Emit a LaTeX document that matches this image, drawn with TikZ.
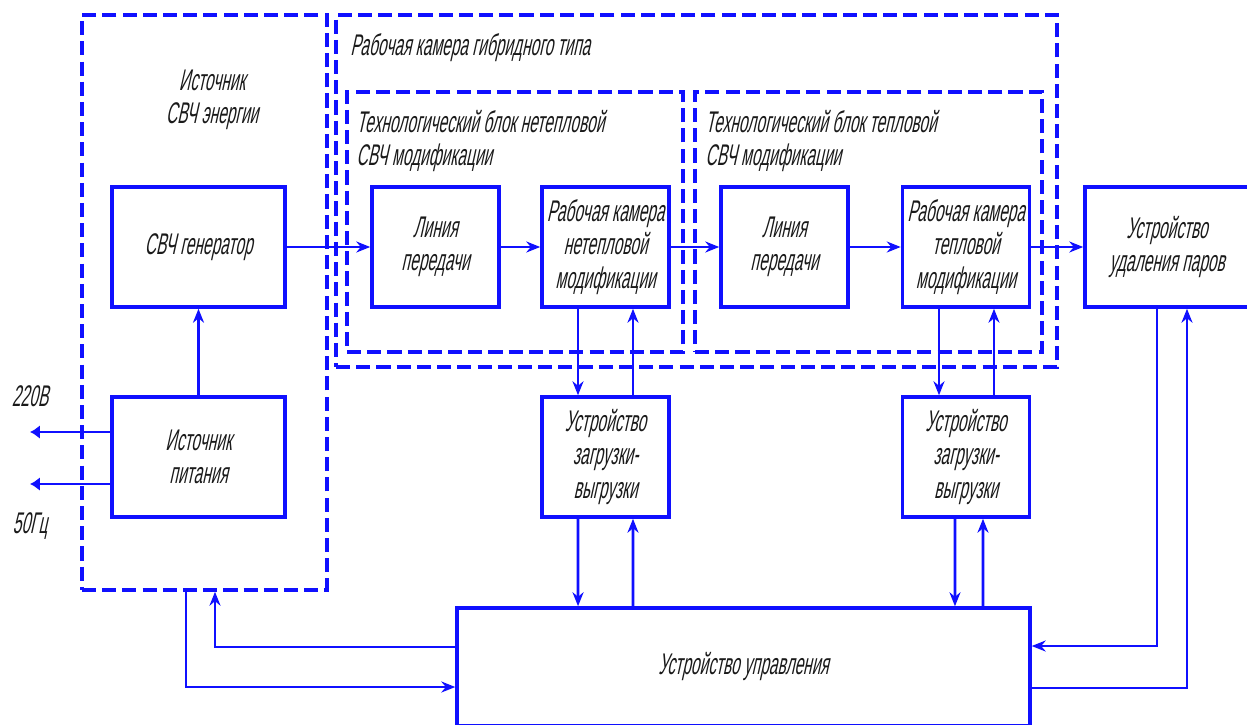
\documentclass[tikz,border=0pt]{standalone}
\usepackage{fontspec}
\setmainfont{Liberation Sans}[FakeStretch=0.52,FakeSlant=0.22]
\usepackage{xcolor}
\usetikzlibrary{arrows.meta,positioning}
\definecolor{schemeBlue}{HTML}{1010FF}
\definecolor{schemeInk}{HTML}{1A1A1A}
\tikzset{
  unit/.style={
    rectangle,
    draw=schemeBlue,
    line width=2pt,
    inner sep=0pt,
    minimum height=24mm,
    align=center,
    text=schemeInk,
    font=\fontsize{17}{19}\selectfont
  },
  dashgroup/.style={
    rectangle,
    draw=schemeBlue,
    line width=2pt,
    dash pattern=on 8pt off 3.5pt,
    inner sep=0pt
  },
  caption/.style={
    inner sep=0pt,
    align=left,
    text=schemeInk,
    font=\fontsize{17}{19}\selectfont
  },
  arrow/.style={
    -{Stealth[length=2.8mm,width=2.2mm]},
    line width=1.5pt,
    draw=schemeBlue
  },
  terminal/.style={
    -{Latex[length=2mm,width=2.8mm]},
    line width=1.5pt,
    draw=schemeBlue
  }
}
\begin{document}
\begin{tikzpicture}[x=0.02cm,y=-0.02cm]
  \useasboundingbox (0,0) rectangle (1247,724);
  \clip (0,0) rectangle (1247,724);
  \node[dashgroup,minimum width=49mm,minimum height=115mm] (src) at (204.5,302.5) {};
  \node[dashgroup,minimum width=144.2mm,minimum height=70.4mm] (hybrid) at (696.5,191) {};
  \node[dashgroup,minimum width=67.2mm,minimum height=52mm] (blockA) at (515,222) {};
  \node[dashgroup,minimum width=69.4mm,minimum height=52mm] (blockB) at (868.5,222) {};
  \node[caption,align=center] (srctitle) at (212,100) {Источник\\СВЧ энергии};
  \node[caption,anchor=west] (hybridtitle) at (350,48) {Рабочая камера гибридного типа};
  \node[caption,anchor=west] (blockAtitle) at (356,141) {Технологический блок нетепловой\\СВЧ модификации};
  \node[caption,anchor=west] (blockBtitle) at (705,141) {Технологический блок тепловой\\СВЧ модификации};

  \node[unit,minimum width=34.6mm] (gen) at (198.5,247) {СВЧ генератор};
  \node[unit,minimum width=34.6mm] (power) at (198.5,457) {Источник\\питания};
  \node[unit,minimum width=25.4mm] (lineA) at (435.5,247) {Линия\\передачи};
  \node[unit,minimum width=25.4mm] (chamA) at (605.5,247) {Рабочая камера\\нетепловой\\модификации};
  \node[unit,minimum width=25.4mm] (lineB) at (784.5,247) {Линия\\передачи};
  \node[unit,minimum width=25.4mm] (chamB) at (966,247) {Рабочая камера\\тепловой\\модификации};
  \node[unit,minimum width=32.8mm] (vapor) at (1167,247) {Устройство\\удаления паров};
  \node[unit,minimum width=25.4mm] (loadA) at (605.5,457) {Устройство\\загрузки-\\выгрузки};
  \node[unit,minimum width=25.4mm] (loadB) at (966,457) {Устройство\\загрузки-\\выгрузки};
  \node[unit,minimum width=114.6mm,minimum height=23.6mm] (ctrl) at (743.5,667) {Устройство управления};

  \node[caption] (volt) at (30,396) {220В};
  \node[caption] (freq) at (30,526) {50Гц};
  \coordinate (inA) at (30,432);
  \coordinate (inB) at (30,484);
  \draw[terminal] (power.west |- inA) -- (inA);
  \draw[terminal] (power.west |- inB) -- (inB);

  \draw[arrow] (power) -- (gen);
  \draw[arrow] (gen) -- (lineA);
  \draw[arrow] (lineA) -- (chamA);
  \draw[arrow] (chamA) -- (lineB);
  \draw[arrow] (lineB) -- (chamB);
  \draw[arrow] (chamB) -- (vapor);

  \draw[arrow] ([xshift=-5.5mm]chamA.south) -- ([xshift=-5.5mm]loadA.north);
  \draw[arrow] ([xshift=5.5mm]loadA.north) -- ([xshift=5.5mm]chamA.south);
  \draw[arrow] ([xshift=-5.5mm]loadA.south) -- ([xshift=-33.1mm]ctrl.north);
  \draw[arrow] ([xshift=-22.1mm]ctrl.north) -- ([xshift=5.5mm]loadA.south);

  \draw[arrow] ([xshift=-5.4mm]chamB.south) -- ([xshift=-5.4mm]loadB.north);
  \draw[arrow] ([xshift=5.6mm]loadB.north) -- ([xshift=5.6mm]chamB.south);
  \draw[arrow] ([xshift=-2.2mm]loadB.south) -- ([xshift=42.3mm]ctrl.north);
  \draw[arrow] ([xshift=47.9mm]ctrl.north) -- ([xshift=3.4mm]loadB.south);

  \draw[arrow] ([xshift=-2mm]vapor.south) |- ([yshift=4.2mm]ctrl.east);
  \draw[arrow] ([yshift=-4.2mm]ctrl.east) -| ([xshift=4mm]vapor.south);
  \draw[arrow] ([yshift=4mm]ctrl.west) -| ([xshift=2.1mm]src.south);
  \draw[arrow] ([xshift=-3.7mm]src.south) |- ([yshift=-4mm]ctrl.west);
\end{tikzpicture}
\end{document}
